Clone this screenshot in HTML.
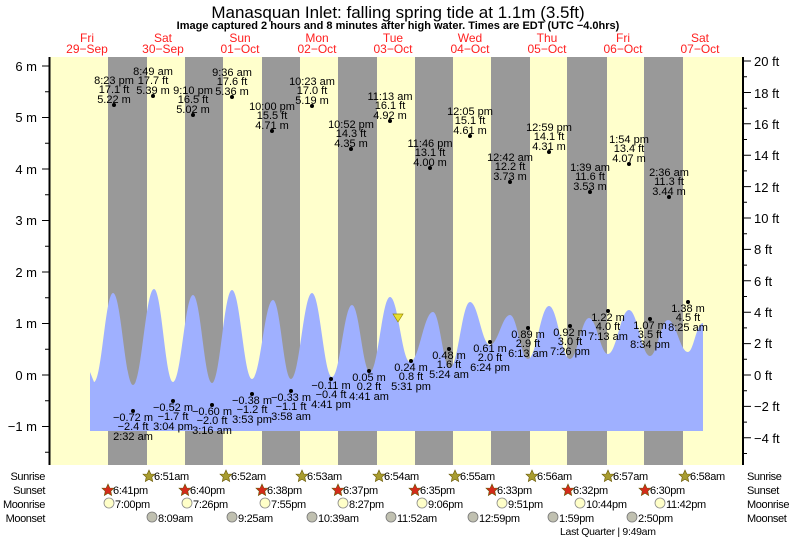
<!DOCTYPE html>
<html><head><meta charset="utf-8"><style>
html,body{margin:0;padding:0;background:#fff}
svg{display:block;font-family:"Liberation Sans",sans-serif}
.t{font-size:11px;fill:#000;text-anchor:middle}
.d{font-size:12px;fill:#ff2020;text-anchor:middle}
.ax{font-size:13px;fill:#000}
.r{font-size:11px;fill:#000;letter-spacing:-0.3px}
.rl{font-size:11px;fill:#000;letter-spacing:-0.4px}
</style></head><body>
<svg width="793" height="539" viewBox="0 0 793 539">
<rect x="0" y="0" width="793" height="539" fill="#fff"/>
<text x="398" y="18" text-anchor="middle" font-size="17">Manasquan Inlet: falling  spring tide at 1.1m (3.5ft)</text>
<text x="398" y="29" text-anchor="middle" font-size="11" font-weight="bold">Image captured 2 hours and 8 minutes after high water. Times are EDT (UTC −4.0hrs)</text>
<g class="d">
<text x="87" y="42">Fri</text><text x="87" y="53">29−Sep</text>
<text x="163" y="42">Sat</text><text x="163" y="53">30−Sep</text>
<text x="240" y="42">Sun</text><text x="240" y="53">01−Oct</text>
<text x="317" y="42">Mon</text><text x="317" y="53">02−Oct</text>
<text x="393" y="42">Tue</text><text x="393" y="53">03−Oct</text>
<text x="470" y="42">Wed</text><text x="470" y="53">04−Oct</text>
<text x="547" y="42">Thu</text><text x="547" y="53">05−Oct</text>
<text x="623" y="42">Fri</text><text x="623" y="53">06−Oct</text>
<text x="700" y="42">Sat</text><text x="700" y="53">07−Oct</text>
</g>
<rect x="50" y="57" width="693" height="408" fill="#ffffcc"/>
<g fill="#999">
<rect x="108" y="57" width="39" height="408"/><rect x="185" y="57" width="38" height="408"/>
<rect x="262" y="57" width="38" height="408"/><rect x="338" y="57" width="39" height="408"/>
<rect x="415" y="57" width="38" height="408"/><rect x="491" y="57" width="39" height="408"/>
<rect x="567" y="57" width="40" height="408"/><rect x="644" y="57" width="39" height="408"/>
</g>
<path fill="#9fb0ff" d="M90,431 L90,372 L94,382 C101.6,382 105.4,293 113,293 C121,293 125,385 133,385 C141.4,385 145.6,289 154,289 C161.6,289 165.4,382 173,382 C181,382 185,295 193,295 C200.6,295 204.4,383 212,383 C220,383 224,290 232,290 C240,290 244,379 252,379 C260.4,379 264.6,300 273,300 C280.2,300 283.8,379 291,379 C299.4,379 303.6,293 312,293 C320,293 324,377 332,377 C340,377 344,305 352,305 C359.2,305 362.8,372 370,372 C378,372 382,297 390,297 C398,297 402,362 410,362 C419.2,362 423.8,312 433,312 C439.8,312 443.2,368 450,368 C458,368 462,302 470,302 C478,302 482,345 490,345 C498,345 502,315 510,315 C517.2,315 520.8,359 528,359 C536.4,359 540.6,306 549,306 C557.4,306 561.6,359 570,359 C577.6,359 581.4,318 589,318 C596.6,318 600.4,354 608,354 C616.4,354 620.6,310 629,310 C637.4,310 641.6,356 650,356 C657.2,356 660.8,320 668,320 C676,320 680,352 688,352 C693.6,352 696.4,323 703,323 L703,431 Z"/>
<polygon points="393,314 403,314 398,322" fill="#e8e030" stroke="#998800" stroke-width="0.7"/>
<line x1="49.5" y1="57" x2="49.5" y2="465" stroke="#000" stroke-width="2"/>
<line x1="743" y1="57" x2="743" y2="465" stroke="#000" stroke-width="2"/>
<g stroke="#000" stroke-width="1">
<path d="M42,66H49M42,117.5H49M42,169H49M42,220.5H49M42,272H49M42,323.5H49M42,375H49M42,426.5H49"/>
<path d="M45,91.7H49M45,143.2H49M45,194.7H49M45,246.2H49M45,297.7H49M45,349.2H49M45,400.7H49M45,452.2H49"/>
<path d="M743,61H751M743,92.5H751M743,123.8H751M743,155.2H751M743,186.6H751M743,218H751M743,249.4H751M743,280.8H751M743,312.2H751M743,343.6H751M743,375H751M743,406.4H751M743,437.8H751"/>
<path d="M743,76.7H747M743,108.2H747M743,139.5H747M743,170.9H747M743,202.3H747M743,233.7H747M743,265.1H747M743,296.5H747M743,327.9H747M743,359.3H747M743,390.7H747M743,422.1H747M743,453.5H747"/>
</g>
<g class="ax" text-anchor="end">
<text x="37" y="71">6 m</text><text x="37" y="122">5 m</text><text x="37" y="174">4 m</text><text x="37" y="225">3 m</text><text x="37" y="277">2 m</text><text x="37" y="328">1 m</text><text x="37" y="380">0 m</text><text x="37" y="431">−1 m</text>
</g>
<g class="ax">
<text x="754" y="66">20 ft</text><text x="754" y="98">18 ft</text><text x="754" y="129">16 ft</text><text x="754" y="160">14 ft</text><text x="754" y="192">12 ft</text><text x="754" y="223">10 ft</text><text x="754" y="254">8 ft</text><text x="754" y="286">6 ft</text><text x="754" y="317">4 ft</text><text x="754" y="348">2 ft</text><text x="754" y="380">0 ft</text><text x="754" y="411">−2 ft</text><text x="754" y="443">−4 ft</text>
</g>
<g class="t">
<g transform="translate(114,105)"><circle r="2"/><text y="-21">8:23 pm</text><text y="-12">17.1 ft</text><text y="-2">5.22 m</text></g>
<g transform="translate(153,96)"><circle r="2"/><text y="-21">8:49 am</text><text y="-12">17.7 ft</text><text y="-2">5.39 m</text></g>
<g transform="translate(193,115)"><circle r="2"/><text y="-21">9:10 pm</text><text y="-12">16.5 ft</text><text y="-2">5.02 m</text></g>
<g transform="translate(232,97)"><circle r="2"/><text y="-21">9:36 am</text><text y="-12">17.6 ft</text><text y="-2">5.36 m</text></g>
<g transform="translate(272,131)"><circle r="2"/><text y="-21">10:00 pm</text><text y="-12">15.5 ft</text><text y="-2">4.71 m</text></g>
<g transform="translate(312,106)"><circle r="2"/><text y="-21">10:23 am</text><text y="-12">17.0 ft</text><text y="-2">5.19 m</text></g>
<g transform="translate(351,149)"><circle r="2"/><text y="-21">10:52 pm</text><text y="-12">14.3 ft</text><text y="-2">4.35 m</text></g>
<g transform="translate(390,121)"><circle r="2"/><text y="-21">11:13 am</text><text y="-12">16.1 ft</text><text y="-2">4.92 m</text></g>
<g transform="translate(430,168)"><circle r="2"/><text y="-21">11:46 pm</text><text y="-12">13.1 ft</text><text y="-2">4.00 m</text></g>
<g transform="translate(470,136)"><circle r="2"/><text y="-21">12:05 pm</text><text y="-12">15.1 ft</text><text y="-2">4.61 m</text></g>
<g transform="translate(510,182)"><circle r="2"/><text y="-21">12:42 am</text><text y="-12">12.2 ft</text><text y="-2">3.73 m</text></g>
<g transform="translate(549,152)"><circle r="2"/><text y="-21">12:59 pm</text><text y="-12">14.1 ft</text><text y="-2">4.31 m</text></g>
<g transform="translate(590,192)"><circle r="2"/><text y="-21">1:39 am</text><text y="-12">11.6 ft</text><text y="-2">3.53 m</text></g>
<g transform="translate(629,164)"><circle r="2"/><text y="-21">1:54 pm</text><text y="-12">13.4 ft</text><text y="-2">4.07 m</text></g>
<g transform="translate(669,197)"><circle r="2"/><text y="-21">2:36 am</text><text y="-12">11.3 ft</text><text y="-2">3.44 m</text></g>

<g transform="translate(133,411)"><circle r="2"/><text y="10">−0.72 m</text><text y="19">−2.4 ft</text><text y="29">2:32 am</text></g>
<g transform="translate(173,401)"><circle r="2"/><text y="10">−0.52 m</text><text y="19">−1.7 ft</text><text y="29">3:04 pm</text></g>
<g transform="translate(212,405)"><circle r="2"/><text y="10">−0.60 m</text><text y="19">−2.0 ft</text><text y="29">3:16 am</text></g>
<g transform="translate(252,394)"><circle r="2"/><text y="10">−0.38 m</text><text y="19">−1.2 ft</text><text y="29">3:53 pm</text></g>
<g transform="translate(291,391)"><circle r="2"/><text y="10">−0.33 m</text><text y="19">−1.1 ft</text><text y="29">3:58 am</text></g>
<g transform="translate(331,379)"><circle r="2"/><text y="10">−0.11 m</text><text y="19">−0.4 ft</text><text y="29">4:41 pm</text></g>
<g transform="translate(369,371)"><circle r="2"/><text y="10">0.05 m</text><text y="19">0.2 ft</text><text y="29">4:41 am</text></g>
<g transform="translate(411,361)"><circle r="2"/><text y="10">0.24 m</text><text y="19">0.8 ft</text><text y="29">5:31 pm</text></g>
<g transform="translate(449,349)"><circle r="2"/><text y="10">0.48 m</text><text y="19">1.6 ft</text><text y="29">5:24 am</text></g>
<g transform="translate(490,342)"><circle r="2"/><text y="10">0.61 m</text><text y="19">2.0 ft</text><text y="29">6:24 pm</text></g>
<g transform="translate(528,328)"><circle r="2"/><text y="10">0.89 m</text><text y="19">2.9 ft</text><text y="29">6:13 am</text></g>
<g transform="translate(570,326)"><circle r="2"/><text y="10">0.92 m</text><text y="19">3.0 ft</text><text y="29">7:26 pm</text></g>
<g transform="translate(608,311)"><circle r="2"/><text y="10">1.22 m</text><text y="19">4.0 ft</text><text y="29">7:13 am</text></g>
<g transform="translate(650,319)"><circle r="2"/><text y="10">1.07 m</text><text y="19">3.5 ft</text><text y="29">8:34 pm</text></g>
<g transform="translate(688,302)"><circle r="2"/><text y="10">1.38 m</text><text y="19">4.5 ft</text><text y="29">8:25 am</text></g>
</g>
<g class="rl" text-anchor="end">
<text x="45" y="480">Sunrise</text><text x="45" y="494">Sunset</text><text x="45" y="508">Moonrise</text><text x="45" y="522">Moonset</text>
</g>
<g class="rl">
<text x="747" y="480">Sunrise</text><text x="747" y="494">Sunset</text><text x="747" y="508">Moonrise</text><text x="747" y="522">Moonset</text>
</g>
<defs>
<polygon id="st" points="0,-6 1.8,-2 6,-1.9 2.8,1.2 3.7,5.5 0,3.2 -3.7,5.5 -2.8,1.2 -6,-1.9 -1.8,-2" stroke="#665500" stroke-width="0.6"/>
</defs>
<g class="r">
<g fill="#a89c30"><use href="#st" x="149" y="476"/><use href="#st" x="226" y="476"/><use href="#st" x="302" y="476"/><use href="#st" x="379" y="476"/><use href="#st" x="455" y="476"/><use href="#st" x="532" y="476"/><use href="#st" x="608" y="476"/><use href="#st" x="685" y="476"/></g>
<text x="154" y="480">6:51am</text><text x="231" y="480">6:52am</text><text x="307" y="480">6:53am</text><text x="384" y="480">6:54am</text><text x="460" y="480">6:55am</text><text x="537" y="480">6:56am</text><text x="613" y="480">6:57am</text><text x="690" y="480">6:58am</text>
<g fill="#d42a1a"><use href="#st" x="108" y="490"/><use href="#st" x="185" y="490"/><use href="#st" x="262" y="490"/><use href="#st" x="338" y="490"/><use href="#st" x="415" y="490"/><use href="#st" x="492" y="490"/><use href="#st" x="568" y="490"/><use href="#st" x="645" y="490"/></g>
<text x="113" y="494">6:41pm</text><text x="190" y="494">6:40pm</text><text x="267" y="494">6:38pm</text><text x="343" y="494">6:37pm</text><text x="420" y="494">6:35pm</text><text x="497" y="494">6:33pm</text><text x="573" y="494">6:32pm</text><text x="650" y="494">6:30pm</text>
<g fill="#ffffc8" stroke="#888" stroke-width="0.8"><circle cx="109" cy="503" r="5"/><circle cx="187" cy="503" r="5"/><circle cx="265" cy="503" r="5"/><circle cx="343" cy="503" r="5"/><circle cx="422" cy="503" r="5"/><circle cx="502" cy="503" r="5"/><circle cx="580" cy="503" r="5"/><circle cx="660" cy="503" r="5"/></g>
<text x="115" y="508">7:00pm</text><text x="193" y="508">7:26pm</text><text x="271" y="508">7:55pm</text><text x="349" y="508">8:27pm</text><text x="428" y="508">9:06pm</text><text x="508" y="508">9:51pm</text><text x="586" y="508">10:44pm</text><text x="666" y="508">11:42pm</text>
<g fill="#c0c0b0" stroke="#777" stroke-width="0.8"><circle cx="152" cy="517" r="5"/><circle cx="232" cy="517" r="5"/><circle cx="312" cy="517" r="5"/><circle cx="391" cy="517" r="5"/><circle cx="473" cy="517" r="5"/><circle cx="553" cy="517" r="5"/><circle cx="632" cy="517" r="5"/></g>
<text x="158" y="522">8:09am</text><text x="238" y="522">9:25am</text><text x="318" y="522">10:39am</text><text x="397" y="522">11:52am</text><text x="479" y="522">12:59pm</text><text x="559" y="522">1:59pm</text><text x="638" y="522">2:50pm</text>
<text x="560" y="535" font-size="10.5">Last Quarter | 9:49am</text>
</g>
</svg>
</body></html>
